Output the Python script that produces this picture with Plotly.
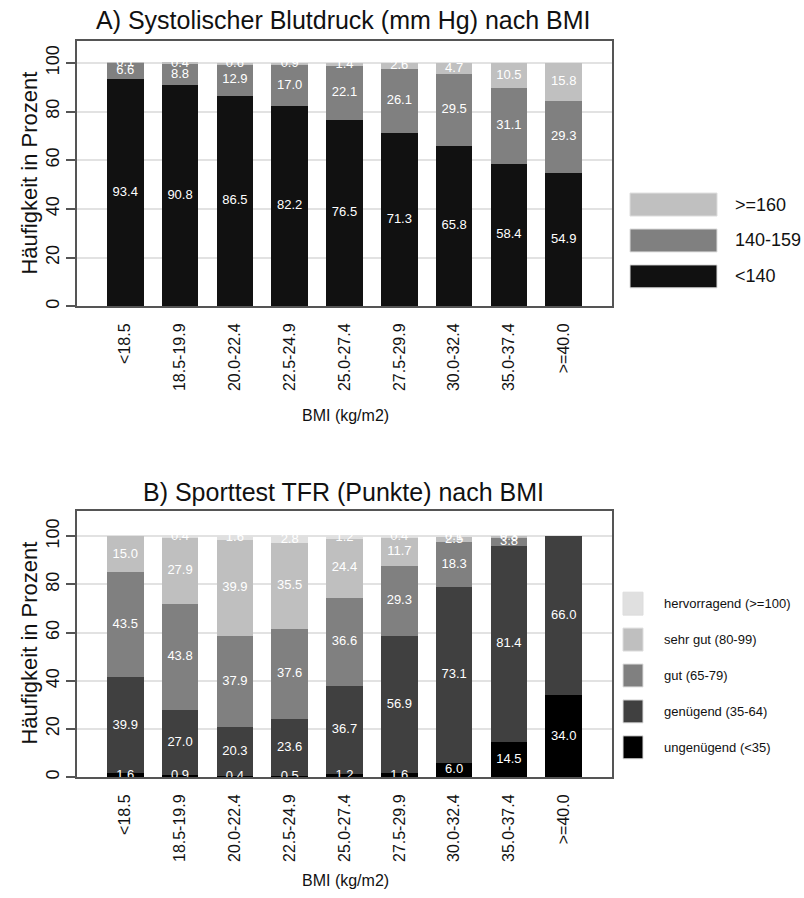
import plotly.graph_objects as go

# ---------------- data ----------------
categories = ["<18.5", "18.5-19.9", "20.0-22.4", "22.5-24.9", "25.0-27.4",
              "27.5-29.9", "30.0-32.4", "35.0-37.4", ">=40.0"]

# A) systolic blood pressure
bp_names = ["<140", "140-159", ">=160"]
bp_lt140 = [93.4, 90.8, 86.5, 82.2, 76.5, 71.3, 65.8, 58.4, 54.9]
bp_140_159 = [6.6, 8.8, 12.9, 17.0, 22.1, 26.1, 29.5, 31.1, 29.3]
bp_ge160 = [0.1, 0.4, 0.6, 0.9, 1.4, 2.6, 4.7, 10.5, 15.8]
bp_colors = ["#111111", "#808080", "#c0c0c0"]

# B) sport test TFR
tfr_names = ["ungenügend (<35)", "genügend (35-64)", "gut (65-79)",
             "sehr gut (80-99)", "hervorragend (>=100)"]
tfr_ungenuegend = [1.6, 0.9, 0.4, 0.5, 1.2, 1.6, 6.0, 14.5, 34.0]
tfr_genuegend = [39.9, 27.0, 20.3, 23.6, 36.7, 56.9, 73.1, 81.4, 66.0]
tfr_gut = [43.5, 43.8, 37.9, 37.6, 36.6, 29.3, 18.3, 3.8, 0.0]
tfr_sehrgut = [15.0, 27.9, 39.9, 35.5, 24.4, 11.7, 2.5, 0.3, 0.0]
tfr_hervorragend = [0.0, 0.4, 1.6, 2.8, 1.2, 0.4, 0.1, 0.0, 0.0]
tfr_colors = ["#000000", "#404040", "#808080", "#bfbfbf", "#e0e0e0"]

bp_series = [bp_lt140, bp_140_159, bp_ge160]
tfr_series = [tfr_ungenuegend, tfr_genuegend, tfr_gut, tfr_sehrgut, tfr_hervorragend]

W, H = 804, 898
FONT = "Liberation Sans"


def px(x):
    return x / W


def py(y):
    return 1 - y / H


fig = go.Figure()


def add_stack(series, names, colors, xa, ya):
    base = [0.0] * len(categories)
    for vals, name, col in zip(series, names, colors):
        fig.add_trace(go.Bar(
            x=categories, y=vals, name=name, marker_color=col,
            marker_line_width=0, width=0.667, xaxis=xa, yaxis=ya,
            showlegend=False, hoverinfo="skip"))
        xs, ys, ts = [], [], []
        for i, v in enumerate(vals):
            if v > 0:
                xs.append(categories[i])
                ys.append(base[i] + v / 2)
                ts.append(f"{v:.1f}")
        fig.add_trace(go.Scatter(
            x=xs, y=ys, text=ts, mode="text", xaxis=xa, yaxis=ya,
            textfont=dict(color="white", size=13, family=FONT),
            showlegend=False, hoverinfo="skip", cliponaxis=False))
        base = [b + v for b, v in zip(base, vals)]


add_stack(bp_series, bp_names, bp_colors, "x", "y")
add_stack(tfr_series, tfr_names, tfr_colors, "x2", "y2")

axis_common_x = dict(range=[-0.88, 8.88], showgrid=False, ticks="",
                     tickangle=-90, tickfont=dict(size=16, color="#111", family=FONT),
                     showline=True, mirror=True, linecolor="#555", linewidth=1.5,
                     ticklabelstandoff=9, fixedrange=True)
axis_common_y = dict(tickvals=[0, 20, 40, 60, 80, 100], ticks="outside", ticklen=9,
                     tickcolor="#555", tickwidth=1.5, tickangle=-90,
                     tickfont=dict(size=18, color="#111", family=FONT),
                     showgrid=True, gridcolor="#e2e2e2", gridwidth=1.5,
                     zeroline=False, showline=True, mirror=True,
                     linecolor="#555", linewidth=1.5, fixedrange=True)

fig.update_layout(
    width=W, height=H, margin=dict(l=0, r=0, t=0, b=0),
    paper_bgcolor="white", plot_bgcolor="white", barmode="stack",
    font=dict(family=FONT, color="#111"),
    xaxis=dict(domain=[px(77), px(612)], anchor="y", **axis_common_x),
    yaxis=dict(domain=[py(307), py(41)], anchor="x", range=[0, 109], **axis_common_y),
    xaxis2=dict(domain=[px(77), px(612)], anchor="y2", **axis_common_x),
    yaxis2=dict(domain=[py(779), py(512)], anchor="x2", range=[0, 110.5], **axis_common_y),
)

ann = []
shapes = []


def label(text, x, y, size, xanchor="center", angle=0):
    ann.append(dict(text=text, x=px(x), y=py(y), xref="paper", yref="paper",
                    xanchor=xanchor, yanchor="middle", showarrow=False,
                    textangle=angle, font=dict(size=size, family=FONT, color="#111")))


# titles
label("A) Systolischer Blutdruck (mm Hg) nach BMI", 343, 20, 25)
label("B) Sporttest TFR (Punkte) nach BMI", 343, 493, 25)
# axis titles
for yc in (174, 645):
    label("Häufigkeit in Prozent", 30, yc, 22, angle=-90)
for yc in (416, 882):
    label("BMI (kg/m2)", 345, yc, 16)

# legend A (top to bottom: >=160, 140-159, <140)
for k, (name, col) in enumerate(zip(bp_names[::-1], bp_colors[::-1])):
    yc = 205 + 36 * k
    shapes.append(dict(type="rect", xref="paper", yref="paper",
                       x0=px(630), x1=px(717), y0=py(yc + 11.5), y1=py(yc - 11.5),
                       fillcolor=col, line=dict(color="#dddddd", width=1)))
    label(name, 733, yc, 18, xanchor="left")

# legend B
for k, (name, col) in enumerate(zip(tfr_names[::-1], tfr_colors[::-1])):
    yc = 605 + 36 * k
    shapes.append(dict(type="rect", xref="paper", yref="paper",
                       x0=px(623), x1=px(643), y0=py(yc + 11.5), y1=py(yc - 11.5),
                       fillcolor=col, line=dict(color="#dddddd", width=1)))
    label(name, 662, yc, 13, xanchor="left")

fig.update_layout(annotations=ann, shapes=shapes)
fig.write_html("out.html", config={"displayModeBar": False},
               post_script="document.body.style.margin='0';document.body.style.overflow='hidden';")
